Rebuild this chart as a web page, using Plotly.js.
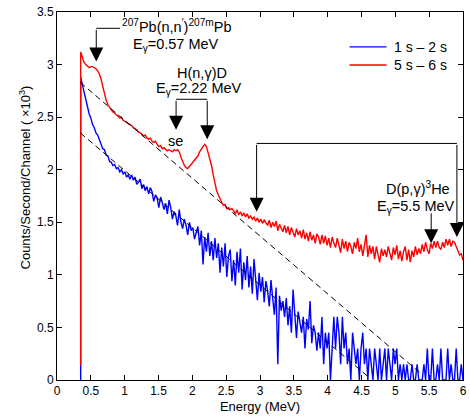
<!DOCTYPE html>
<html>
<head>
<meta charset="utf-8">
<script src="https://cdn.plot.ly/plotly-3.0.1.min.js"></script>
<style>html,body{margin:0;padding:0;background:#fff;}#chart{width:470px;height:416px;}</style>
</head>
<body>
<div id="chart"></div>
<script>
// Energy calibration (MeV): threshold edge, then channels up to the end energy
var energyStart = 0.35;
var energyEnd = 6.0;

// Series: 1 s - 2 s (counts/second/channel, x10^3); first value = threshold edge
var series1to2s = [0,
  2.88, 2.81, 2.74, 2.66, 2.60, 2.53, 2.49, 2.43, 2.40, 2.35,
  2.33, 2.28, 2.25, 2.20, 2.19, 2.14, 2.13, 2.08, 2.07, 2.04,
  2.05, 2.01, 2.02, 1.98, 2.00, 1.96, 1.98, 1.93, 1.95, 1.91,
  1.95, 1.90, 1.93, 1.86, 1.88, 1.91, 1.82, 1.86, 1.80, 1.84,
  1.77, 1.83, 1.79, 1.70, 1.76, 1.73, 1.64, 1.74, 1.69, 1.62,
  1.68, 1.58, 1.71, 1.64, 1.53, 1.60, 1.56, 1.47, 1.62, 1.50,
  1.44, 1.53, 1.47, 1.38, 1.50, 1.42, 1.45, 1.34, 1.40, 1.46,
  1.28, 1.42, 1.10, 1.36, 1.22, 1.40, 1.18, 1.32, 1.14, 1.35,
  1.16, 1.30, 1.02, 1.26, 1.08, 1.30, 0.98, 1.18, 1.24, 0.94,
  1.14, 0.90, 1.22, 1.02, 1.25, 0.86, 1.12, 0.95, 1.18, 0.88,
  1.08, 0.82, 1.15, 0.92, 0.76, 1.02, 0.84, 0.98, 0.74, 0.94,
  0.85, 0.70, 0.95, 0.78, 0.62, 0.88, 0.15, 0.80, 0.66, 0.75,
  0.60, 0.78, 0.52, 0.70, 0.45, 0.86, 0.58, 0.40, 0.65, 0.55,
  0.45, 0.60, 0.30, 0.58, 0.48, 0.75, 0.35, 0.52, 0.45, 0.28,
  0.45, 0.30, 0.60, 0.15, 0.45, 0.30, 0.45, 0.00, 0.30, 0.60,
  0.30, 0.60, 0.45, 0.15, 0.60, 0.30, 0.45, 0.15, 0.30, 0.00,
  0.45, 0.30, 0.15, 0.30, 0.00, 0.30, 0.45, 0.15, 0.30, 0.00,
  0.30, 0.15, 0.00, 0.30, 0.15, 0.00, 0.30, 0.00, 0.15, 0.30,
  0.00, 0.30, 0.15, 0.00, 0.30, 0.15, 0.30, 0.00, 0.15, 0.00,
  0.15, 0.00, 0.15, 0.00, 0.00, 0.15, 0.00, 0.00, 0.15, 0.00,
  0.00, 0.00, 0.15, 0.00, 0.30, 0.00, 0.00, 0.30, 0.00, 0.00,
  0.15, 0.00, 0.30, 0.00, 0.00, 0.00, 0.30, 0.00, 0.15, 0.00,
  0.00, 0.30, 0.00, 0.00, 0.15, 0.00];

// Series: 5 s - 6 s
var series5to6s = [0.14,
  3.12, 3.07, 3.02, 3.00, 2.98, 2.97, 2.98, 2.98, 2.97, 2.96,
  2.94, 2.91, 2.86, 2.79, 2.72, 2.66, 2.62, 2.59, 2.57, 2.55,
  2.54, 2.52, 2.51, 2.49, 2.50, 2.47, 2.46, 2.45, 2.44, 2.43,
  2.42, 2.40, 2.39, 2.38, 2.36, 2.35, 2.34, 2.32, 2.33, 2.30,
  2.29, 2.30, 2.27, 2.26, 2.27, 2.24, 2.22, 2.23, 2.20, 2.21,
  2.19, 2.18, 2.19, 2.18, 2.17, 2.19, 2.18, 2.19, 2.17, 2.12,
  2.07, 2.04, 2.02, 2.01, 2.03, 2.05, 2.06, 2.08, 2.11, 2.13,
  2.17, 2.20, 2.22, 2.24, 2.22, 2.16, 2.10, 2.04, 1.95, 1.87,
  1.80, 1.76, 1.72, 1.69, 1.66, 1.67, 1.63, 1.64, 1.62, 1.63,
  1.61, 1.58, 1.62, 1.57, 1.60, 1.56, 1.59, 1.55, 1.58, 1.54,
  1.56, 1.53, 1.55, 1.51, 1.54, 1.50, 1.53, 1.49, 1.52, 1.50,
  1.47, 1.52, 1.45, 1.50, 1.46, 1.51, 1.42, 1.48, 1.44, 1.41,
  1.47, 1.40, 1.46, 1.38, 1.45, 1.41, 1.36, 1.44, 1.38, 1.42,
  1.35, 1.43, 1.34, 1.40, 1.32, 1.41, 1.33, 1.38, 1.30, 1.39,
  1.36, 1.29, 1.38, 1.30, 1.37, 1.28, 1.35, 1.26, 1.36, 1.30,
  1.26, 1.35, 1.29, 1.21, 1.34, 1.25, 1.32, 1.22, 1.31, 1.27,
  1.20, 1.31, 1.25, 1.35, 1.22, 1.29, 1.18, 1.30, 1.38, 1.17,
  1.28, 1.20, 1.27, 1.15, 1.27, 1.19, 1.12, 1.25, 1.18, 1.24,
  1.17, 1.27, 1.20, 1.14, 1.26, 1.19, 1.28, 1.15, 1.23, 1.13,
  1.22, 1.27, 1.14, 1.24, 1.12, 1.23, 1.17, 1.27, 1.19, 1.25,
  1.20, 1.29, 1.22, 1.31, 1.24, 1.20, 1.30, 1.25, 1.32, 1.26,
  1.32, 1.26, 1.24, 1.31, 1.26, 1.34, 1.28, 1.34, 1.27, 1.32,
  1.31, 1.26, 1.23, 1.19, 1.20, 1.14];

// Background fit lines (dashed)
var upperFitX = [0.344, 5.38];
var upperFitY = [2.83, 0.06];
var lowerFitX = [0.344, 4.62];
var lowerFitY = [2.35, 0.02];

// Axis ticks
var xTickVals = [0, 0.5, 1, 1.5, 2, 2.5, 3, 3.5, 4, 4.5, 5, 5.5, 6];
var xTickText = ['0', '0.5', '1', '1.5', '2', '2.5', '3', '3.5', '4', '4.5', '5', '5.5', '6'];
var yTickVals = [0, 0.5, 1, 1.5, 2, 2.5, 3, 3.5];
var yTickText = ['0', '0.5', '1', '1.5', '2', '2.5', '3', '3.5'];

var seriesNames = ['1 s \u2013 2 s', '5 s \u2013 6 s'];
var seriesColors = ['#0000ff', '#ff0000'];

var nCh = series1to2s.length - 1;
var binWidth = (energyEnd - energyStart) / (nCh - 1);
var energy = series1to2s.map(function (_, i) { return energyStart + Math.max(0, i - 1) * binWidth; });

var FONT = 'Liberation Sans, Arial, Helvetica, sans-serif';

var traces = [
  {x: energy, y: series1to2s, type: 'scatter', mode: 'lines', name: seriesNames[0], showlegend: false,
   line: {color: seriesColors[0], width: 1.4}},
  {x: energy, y: series5to6s, type: 'scatter', mode: 'lines', name: seriesNames[1], showlegend: false,
   line: {color: seriesColors[1], width: 1.4}},
  {x: upperFitX, y: upperFitY, type: 'scatter', mode: 'lines', showlegend: false, hoverinfo: 'skip',
   line: {color: '#000', width: 1, dash: '6px,4px'}},
  {x: lowerFitX, y: lowerFitY, type: 'scatter', mode: 'lines', showlegend: false, hoverinfo: 'skip',
   line: {color: '#000', width: 1, dash: '6px,4px'}}
];

function arrow(xTip, yTip, yStart) {
  return {x: xTip, y: yTip, ax: xTip, ay: yStart, xref: 'x', yref: 'y', axref: 'x', ayref: 'y',
    text: '', showarrow: true, arrowhead: 2, arrowsize: 2.8, arrowwidth: 1, arrowcolor: '#000', standoff: 0};
}
function label(x, y, txt) {
  return {x: x, y: y, xref: 'x', yref: 'y', text: txt, showarrow: false,
    font: {family: FONT, size: 14.5, color: '#000'}, xanchor: 'center', yanchor: 'middle'};
}

var annotations = [
  label(1.76, 3.37, '<sup>207</sup>Pb(n,n<sup>\u2032</sup>)<sup>207m</sup>Pb'),
  label(1.76, 3.19, 'E<sub>\u03b3</sub>=0.57 MeV'),
  arrow(0.58, 3.03, 3.345),
  label(2.15, 2.92, 'H(n,\u03b3)D'),
  label(2.10, 2.765, 'E<sub>\u03b3</sub>=2.22 MeV'),
  arrow(1.76, 2.38, 2.67),
  arrow(2.22, 2.29, 2.67),
  label(1.75, 2.27, 'se'),
  arrow(2.95, 1.60, 2.25),
  arrow(5.91, 1.36, 2.25),
  label(5.33, 1.83, 'D(p,\u03b3)<sup>3</sup>He'),
  label(5.30, 1.65, 'E<sub>\u03b3</sub>=5.5 MeV'),
  arrow(5.53, 1.30, 1.60),
  {x: -0.08, y: 0.549, xref: 'paper', yref: 'paper', textangle: -90, showarrow: false,
   text: 'Counts/Second/Channel ( \u00d710<sup>3</sup>)', xanchor: 'center', yanchor: 'middle',
   font: {family: FONT, size: 13, color: '#000'}}
];

var shapes = [
  {type: 'line', xref: 'x', yref: 'y', x0: 0.58, y0: 3.345, x1: 0.93, y1: 3.345, line: {color: '#000', width: 1}},
  {type: 'line', xref: 'x', yref: 'y', x0: 1.76, y0: 2.67, x1: 2.22, y1: 2.67, line: {color: '#000', width: 1}},
  {type: 'line', xref: 'x', yref: 'y', x0: 2.95, y0: 2.25, x1: 5.91, y1: 2.25, line: {color: '#000', width: 1}}
];

// Legend (key lines + labels) in the upper right
var legendY = [0.905, 0.856];
for (var k = 0; k < 2; k++) {
  shapes.push({type: 'line', xref: 'paper', yref: 'paper', x0: 0.7206, x1: 0.8116, y0: legendY[k], y1: legendY[k],
    line: {color: seriesColors[k], width: 1.3}});
  annotations.push({x: 0.8239, y: legendY[k], xref: 'paper', yref: 'paper', text: seriesNames[k], showarrow: false,
    xanchor: 'left', yanchor: 'middle', font: {family: FONT, size: 14, color: '#000'}});
}

var axisCommon = {
  showline: true, linecolor: '#000', linewidth: 1, mirror: 'ticks',
  ticks: 'inside', ticklen: 5, tickwidth: 1, tickcolor: '#000',
  showgrid: false, zeroline: false, tickmode: 'array',
  tickfont: {family: FONT, size: 12, color: '#000'}
};

var layout = {
  width: 470, height: 416,
  margin: {l: 57, r: 7, t: 12, b: 36},
  paper_bgcolor: '#fff', plot_bgcolor: '#fff',
  font: {family: FONT, color: '#000'},
  showlegend: false,
  xaxis: Object.assign({}, axisCommon, {range: [0, 6], tickvals: xTickVals, ticktext: xTickText,
    title: {text: 'Energy (MeV)', font: {family: FONT, size: 13, color: '#000'}, standoff: 4}}),
  yaxis: Object.assign({}, axisCommon, {range: [0, 3.5], tickvals: yTickVals, ticktext: yTickText}),
  annotations: annotations,
  shapes: shapes
};

Plotly.newPlot('chart', traces, layout, {displayModeBar: false, staticPlot: true});
</script>
</body>
</html>
